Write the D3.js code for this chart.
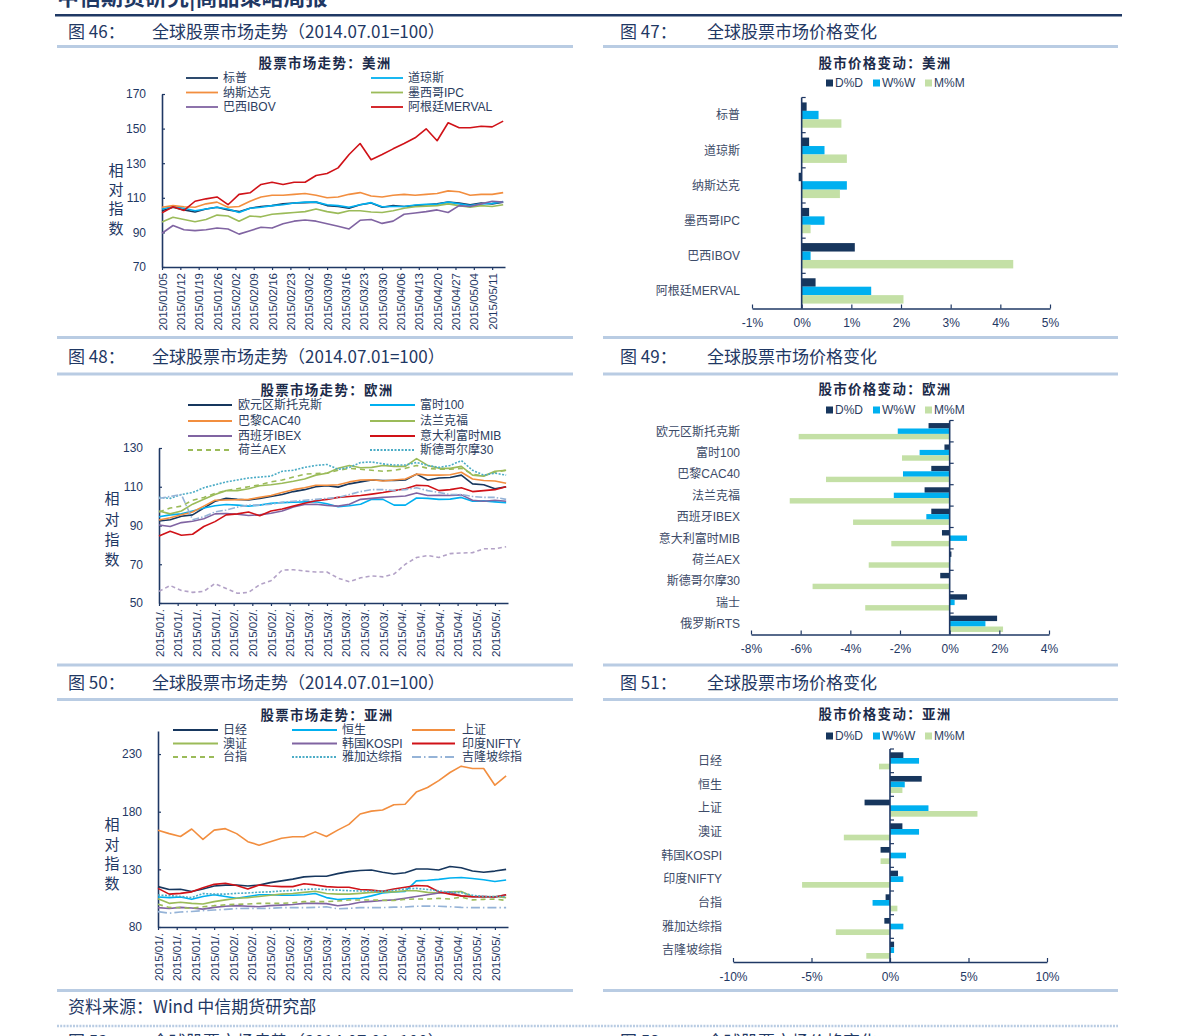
<!DOCTYPE html>
<html><head><meta charset="utf-8">
<script src="https://cdn.jsdelivr.net/npm/d3@7"></script>
<style>
body{margin:0;background:#fff;}
svg text{font-family:'Liberation Sans','Noto Sans CJK SC',sans-serif;}
</style>
</head><body>
<svg id="c" width="1191" height="1036"></svg>
<script>
// ---------- DATA ----------
const tradingDay = [0,3,6,9,12,15,18,21,24,27,30,33,36,39,42,45,48,51,54,57,60,63,66,69,72,75,78,81,84,87,90,93];
const weekTicks = [0,5,10,15,20,25,30,35,40,45,50,55,60,65,70,75,80,85,90];
const weekLabels = ['2015/01/05','2015/01/12','2015/01/19','2015/01/26','2015/02/02','2015/02/09','2015/02/16','2015/02/23','2015/03/02','2015/03/09','2015/03/16','2015/03/23','2015/03/30','2015/04/06','2015/04/13','2015/04/20','2015/04/27','2015/05/04','2015/05/11'];

const usSP     = [102.5,104.5,103,101.8,103.5,104.5,103,102,104,105,105.5,106.5,107,107.2,107.5,105.5,105,104,106,107,104.5,105.5,105,105.5,106,106.5,107.5,107,106,107,106.5,107.5];
const usDow    = [103.5,105,104,102.5,103.5,104.5,103.5,101.5,104,104.5,105.5,106,107,107.5,107.5,106,105.5,104.5,106,107.2,104.8,105,105,105.8,106.2,106.3,107.5,106.5,105.5,106.5,106.8,107.8];
const usNasdaq = [104.5,105.5,104.8,104.5,106.5,107.5,104.5,105,108,110.5,111.5,111.5,112,112.5,111.5,110,110.5,112,113,111,110.5,111.5,112,111.5,112,112.5,114,113.5,111.5,112,112,113];
const usIPC    = [96,98.8,97.5,96.2,97.5,100,99.5,96.5,99.5,99,100.5,101,101.5,102,103.5,102,101,102.5,102.5,101.8,101.5,102.5,104,104.8,105.2,105.5,106.5,105.5,104.5,105.5,105,106];
const usIBOV   = [89.5,94,91.5,91,91.5,92.5,92,89,91,93,92.5,95,96.5,97.2,96.5,95,93.5,92,97,97.5,95.2,96.5,100.5,101.2,102,103,101.5,105.5,105,106.5,108,107.5];
const usMerval = [101.3,104.8,102.7,108,109.4,110.5,106,112,112.9,117.7,119,117.7,119,119,122.9,124,127.3,135,141.4,132,135,138.3,141.4,144.7,149.9,143,153.4,150.5,150.5,151.4,151,154.3];

const euStoxx = [92.3,93,94.8,95.5,99,102.5,104,103.5,103.2,104,105,106,107.5,108.5,110,110.5,109.8,111.5,112.5,113.5,113.2,113.2,113.5,116.5,113.5,114.5,114.8,116,111.5,111,109,110];
const euFTSE  = [94.5,95.5,96,97.5,99,100.2,100.8,100.5,100,100.5,101.5,101.8,102,102.2,102.3,101.2,99.7,100.2,101,103.5,103.5,100.5,100.5,104.2,104,103.5,103.6,104.5,102.5,102.7,102.2,101.8];
const euCAC   = [92.8,94,95.5,97,100,103,103.2,103.3,103.5,104.5,105.5,107,108.5,109.5,110.8,110.8,111,112.5,113.5,113.6,113,113.5,114,116.5,116,116,116.2,117.5,114,113.2,113,111.8];
const euDAX   = [97.5,96,97.5,101,103.5,106,108,108,109,110.5,111,111.8,112.8,114,116,117,119.5,121,119.8,120,121,120.5,120.5,124.5,121,119.5,119.5,120.5,116,115.5,118,118.5];
const euIBEX  = [90.3,89.5,91.5,92.2,93.5,96,96.2,95.8,95.2,95.5,96.3,97.5,99.5,100.8,101,100.4,100,101,103.5,104,104.5,104.8,105.2,106.8,105.5,105.6,105.5,105.8,103,102.5,103,102.5];
const euMIB   = [84.6,87,85,85.5,89.5,92,95.5,96,97,95,97.5,98.5,100,101.5,102.8,103.5,104.5,105,105.5,106.2,107,108,109,110.8,110.5,108,108.5,109.5,107.5,108,108.5,110];
const euAEX   = [97,99,100,103,104.5,106.5,108,109,110,111,112.5,113.5,115,116.5,116.8,117,118.5,119.5,119,118.5,118,118.5,119.5,121,119.5,119,119,119.5,116.5,115.5,117.5,118.5];
const euOMX   = [104.5,104,106,107,109.5,111,112.5,113.5,114.5,115,115.5,118,118.5,120,121,121.5,119,120,122.5,122.8,121.8,121.2,121.2,122.5,121,120,121,123.5,118.5,116,117,116];
const euSMI   = [104,105,106,93,94.5,97,98,99.5,100.5,100.5,101,102,102.5,103,103.5,104,104.5,106,107.5,108.5,108.5,108,108.5,109.5,108,107,106,106,105,104.5,104.5,103.5];
const euRTS   = [56,59,56.5,55.5,56,60,57.5,55,55.5,59.5,61.5,67,67.2,66.5,66,66,62.8,61,63,64,63.5,65,70,73.5,74.5,73.5,75.5,75.8,76,78,78,79];

const asNikkei = [115,112.5,112.8,110.8,113,115.5,116.3,116.4,115.5,116.3,118.5,120,121.5,123.5,124,124,126.3,128,129,129.4,127.5,126,127,130.3,130.3,129.5,132.5,131.4,128.6,127.5,128.5,130];
const asHSI    = [106,105.5,106,104,106.5,108,106.5,105,106.5,108,108,107.5,107.5,108,109,105.5,103.8,104.5,105,107,109.5,110.5,110.8,120,120.5,121.3,122.5,123,122,121,119.5,120.8];
const asSSE    = [164,161,158.5,165,156,164,165.3,161,154,151,154,157,158.3,158.3,162.5,158.5,164,169,178,180.5,181.5,186,186.5,197,201,207,214,219.5,217.5,217.5,203,211];
const asASX    = [104.5,100.5,101.5,100.5,100,102,103.5,105,105.5,106.5,107.5,108.5,109,110,111,109,108.5,108.5,109.2,110,110.5,110.5,111.5,111.5,110,109.5,110.5,110.8,106.5,106,106.5,105.5];
const asKOSPI  = [96.8,96,97,96.5,95.5,97,98,98.5,98,97.6,98.5,99,99.5,100.5,100.5,100.3,98.5,99.5,101.5,102.2,103,103.5,105,106.5,108,109.5,110,107,106.3,106.5,106,108];
const asNifty  = [113.5,108.5,109.2,110.5,114,117,118,116,113,116.4,115.5,115,115,117.5,116.5,115,114.5,114.5,112.5,112,111,113,114.5,116,115.5,110.6,108.5,107,106.3,106.5,106,108];
const asTWSE   = [99.7,97,96.8,96.2,97.5,98.5,99.2,99.7,100,100.5,100.5,100.5,101,102,102,102,102.5,103.4,103.4,103.4,103.2,103,104,104.3,104.3,104.8,104.3,106,103.5,104,104.2,103];
const asJKSE   = [107.7,107.2,106.5,105.5,109,108.5,108.5,109.2,109.5,110.2,110.5,111.2,111.8,112.5,113,112.4,112,111.5,111.2,111.2,111,111.8,113,113.5,112.5,111.3,110.2,109.8,107.5,106.5,106.5,106.3];
const asKLCI   = [93.3,92,93,93.5,94.2,94.7,95.3,96,96.2,96,96.2,96.8,96.8,96.8,97,97.5,95.8,96.2,96.8,96.8,96.8,97.2,97.4,98,98.2,98,97.6,97,96.8,96.8,96.8,96.8];

const amCats = ['标普','道琼斯','纳斯达克','墨西哥IPC','巴西IBOV','阿根廷MERVAL'];
const amDD = [0.10,0.15,-0.06,0.15,1.07,0.28];
const amWW = [0.34,0.46,0.91,0.46,0.18,1.40];
const amMM = [0.80,0.91,0.77,0.18,4.26,2.05];

const euCats = ['欧元区斯托克斯','富时100','巴黎CAC40','法兰克福','西班牙IBEX','意大利富时MIB','荷兰AEX','斯德哥尔摩30','瑞士','俄罗斯RTS'];
const euDD = [-0.85,-0.21,-0.74,-1.01,-0.74,-0.31,0.07,-0.38,0.70,1.91];
const euWW = [-2.09,-1.21,-1.88,-2.25,-0.94,0.70,0.02,-0.02,0.20,1.44];
const euMM = [-6.08,-1.92,-4.98,-6.44,-3.89,-2.35,-3.26,-5.52,-3.40,2.15];

const asCats = ['日经','恒生','上证','澳证','韩国KOSPI','印度NIFTY','台指','雅加达综指','吉隆坡综指'];
const asDD = [0.85,2.02,-1.62,0.79,-0.60,0.51,-0.28,-0.36,0.26];
const asWW = [1.85,0.94,2.45,1.85,1.02,0.85,-1.11,0.85,0.26];
const asMM = [-0.70,0.79,5.57,-2.94,-0.60,-5.60,0.47,-3.45,-1.51];

const barSeriesNames = ['D%D','W%W','M%M'];

// ---------- STYLE ----------
const NAVY = '#1f3864';
const TXT = '#2c3d60';
const C = {navy:'#17375e', blue:'#00b0f0', orange:'#f28e3f', green:'#9bbb59', purple:'#8064a2', red:'#d01218',
           teal:'#4bacc6', lav:'#b3a2c7', steel:'#95b3d7', dD:'#17365d', dW:'#00b0f0', dM:'#c4e0a6'};
const SEP = '#b9cce3';

const svg = d3.select('#c');

// ---------- PAGE FRAME ----------
svg.append('text').attr('x',57).attr('y',5).attr('font-size',22).attr('font-weight','bold').attr('fill',NAVY)
  .style('font-family',"'Noto Sans CJK SC',sans-serif").text('中信期货研究|商品策略周报');
svg.append('rect').attr('x',55).attr('y',14).attr('width',1067).attr('height',2.5).attr('fill',NAVY);

[46.5,337.5,374,665,699.5,990.5].forEach(yy=>{
  svg.append('rect').attr('x',57).attr('y',yy-1.5).attr('width',516).attr('height',3).attr('fill',SEP);
  svg.append('rect').attr('x',603).attr('y',yy-1.5).attr('width',515).attr('height',3).attr('fill',SEP);
});

function header(xNum, xTitle, y, num, title){
  svg.append('text').attr('x',xNum).attr('y',y).attr('font-size',17).attr('fill',NAVY)
    .style('font-family',"'Noto Sans CJK SC',sans-serif").text(num);
  svg.append('text').attr('x',xTitle).attr('y',y).attr('font-size',17).attr('fill',NAVY)
    .style('font-family',"'Noto Sans CJK SC',sans-serif").text(title);
}
header(68,152,38,'图 46：','全球股票市场走势（2014.07.01=100）');
header(620,707,38,'图 47：','全球股票市场价格变化');
header(68,152,363,'图 48：','全球股票市场走势（2014.07.01=100）');
header(620,707,363,'图 49：','全球股票市场价格变化');
header(68,152,689,'图 50：','全球股票市场走势（2014.07.01=100）');
header(620,707,689,'图 51：','全球股票市场价格变化');
header(68,152,1048,'图 52：','全球股票市场走势（2014.07.01=100）');
header(620,707,1048,'图 53：','全球股票市场价格变化');

svg.append('text').attr('x',68).attr('y',1013).attr('font-size',17).attr('fill',NAVY)
  .style('font-family',"'Noto Sans CJK SC',sans-serif").text('资料来源：Wind 中信期货研究部');
svg.append('line').attr('x1',57).attr('x2',1118).attr('y1',1026).attr('y2',1026)
  .attr('stroke',SEP).attr('stroke-width',2.5).attr('stroke-dasharray','2,1.2');

// ---------- LINE CHART ----------
function lineChart(o){
  const g = svg.append('g');
  const x = d3.scaleLinear().domain([0,93.5]).range([o.x0,o.x1]);
  const y = d3.scaleLinear().domain(o.yDom).range([o.yB,o.yT]);

  g.append('text').attr('x',o.titleX).attr('y',o.titleY).attr('text-anchor','middle')
    .attr('font-size',13.5).attr('font-weight','bold').attr('letter-spacing',1.3).attr('fill','#1c2b4a')
    .style('font-family',"'Noto Sans CJK SC',sans-serif").text(o.title);

  const ya = g.append('g').attr('transform',`translate(${o.x0},0)`)
    .call(d3.axisLeft(y).tickValues(o.yTicks).tickSizeInner(-3).tickSizeOuter(0).tickPadding(16));
  const xa = g.append('g').attr('transform',`translate(0,${o.yB})`)
    .call(d3.axisBottom(x).tickValues(weekTicks).tickFormat((d,i)=>o.xLabels[i]).tickSizeInner(3).tickSizeOuter(0));
  xa.selectAll('text').attr('transform','rotate(-90)').attr('x',-6).attr('y',0).attr('dy','0.36em')
    .style('text-anchor','end').attr('font-size',11.5).attr('fill',NAVY);
  ya.selectAll('text').attr('font-size',12).attr('fill',NAVY);
  [ya,xa].forEach(a=>{
    a.select('.domain').attr('stroke',NAVY).attr('stroke-width',1.6);
    a.selectAll('.tick line').attr('stroke',NAVY).attr('stroke-width',1.2);
  });

  ['相','对','指','数'].forEach((ch,i)=>{
    g.append('text').attr('x',o.yTitleX).attr('y',o.yTitleYs[i]+5.5).attr('text-anchor','middle')
      .attr('font-size',15).attr('fill',NAVY).style('font-family',"'Noto Sans CJK SC',sans-serif").text(ch);
  });

  const line = d3.line().x((d,i)=>x(tradingDay[i])).y(d=>y(d));
  o.series.forEach(s=>{
    g.append('path').datum(s.values).attr('d',line).attr('fill','none')
      .attr('stroke',s.color).attr('stroke-width',s.w||1.6).attr('stroke-dasharray',s.dash||null)
      .attr('stroke-linejoin','round');
  });

  const ncol = o.legCols.length;
  o.series.filter(s=>s.name).forEach((s,k)=>{
    const c = o.legCols[k%ncol], ry = o.legRows[Math.floor(k/ncol)];
    g.append('line').attr('x1',c[0]).attr('x2',c[1]).attr('y1',ry).attr('y2',ry)
      .attr('stroke',s.color).attr('stroke-width',1.8).attr('stroke-dasharray',s.dash||null);
    g.append('text').attr('x',c[2]).attr('y',ry+4.3).attr('font-size',12).attr('fill',TXT).text(s.name);
  });
}

// ---------- BAR CHART ----------
function barChart(o){
  const g = svg.append('g');
  const x = d3.scaleLinear().domain(o.xDom).range([o.xL,o.xR]);
  const y = d3.scaleBand().domain(o.cats).range([o.yT,o.yB]);
  const bw = y.bandwidth();
  const sub = d3.scaleBand().domain(barSeriesNames).range([bw*(1-o.fill)/2, bw*(1+o.fill)/2]);
  const sets = [{k:'D%D',v:o.dd,c:C.dD},{k:'W%W',v:o.ww,c:C.dW},{k:'M%M',v:o.mm,c:C.dM}];

  g.append('text').attr('x',o.titleX).attr('y',o.titleY).attr('text-anchor','middle')
    .attr('font-size',13.5).attr('font-weight','bold').attr('letter-spacing',1.3).attr('fill','#1c2b4a')
    .style('font-family',"'Noto Sans CJK SC',sans-serif").text(o.title);

  sets.forEach(s=>{
    g.selectAll(null).data(o.cats).enter().append('rect')
      .attr('x',(c,i)=>x(Math.min(0,s.v[i])))
      .attr('width',(c,i)=>Math.abs(x(s.v[i])-x(0)))
      .attr('y',c=>y(c)+sub(s.k))
      .attr('height',sub.bandwidth())
      .attr('fill',s.c);
  });

  const xa = g.append('g').attr('transform',`translate(0,${o.yB})`)
    .call(d3.axisBottom(x).tickValues(o.xTicks).tickFormat(d=>d+'%').tickSizeInner(-4).tickSizeOuter(0).tickPadding(10));
  xa.select('.domain').attr('stroke',NAVY).attr('stroke-width',1.6);
  xa.selectAll('.tick line').attr('stroke',NAVY).attr('stroke-width',1.2);
  xa.selectAll('text').attr('font-size',12).attr('fill',NAVY);

  const x0 = x(0);
  g.append('line').attr('x1',x0).attr('x2',x0).attr('y1',o.yT).attr('y2',o.yB).attr('stroke',NAVY).attr('stroke-width',1.6);
  o.cats.forEach(c=>{
    g.append('line').attr('x1',x0).attr('x2',x0+4).attr('y1',y(c)).attr('y2',y(c)).attr('stroke',NAVY).attr('stroke-width',1.2);
    g.append('text').attr('x',o.labelX).attr('y',y(c)+bw/2+4.3).attr('text-anchor','end')
      .attr('font-size',12).attr('fill','#3d4b68').text(c);
  });

  sets.forEach((s,i)=>{
    g.append('rect').attr('x',o.legX[i]).attr('y',o.legY-3.5).attr('width',7).attr('height',7).attr('fill',s.c);
    g.append('text').attr('x',o.legX[i]+9).attr('y',o.legY+4.3).attr('font-size',12).attr('fill',TXT).text(s.k);
  });
}

// ---------- PANELS ----------
const truncLabels = weekLabels.map(s=>s.slice(0,8)+'.');

lineChart({x0:162,x1:505,yB:267,yT:94,yDom:[70,170],yTicks:[70,90,110,130,150,170],
  xLabels:weekLabels,title:'股票市场走势：美洲',titleX:325,titleY:68,
  yTitleX:116,yTitleYs:[170,189,208,228],
  legCols:[[186,218,223],[371,403,408]],legRows:[78,92.5,107],
  series:[
    {name:'标普',values:usSP,color:C.navy},
    {name:'道琼斯',values:usDow,color:C.blue},
    {name:'纳斯达克',values:usNasdaq,color:C.orange},
    {name:'墨西哥IPC',values:usIPC,color:C.green},
    {name:'巴西IBOV',values:usIBOV,color:C.purple},
    {name:'阿根廷MERVAL',values:usMerval,color:C.red}
  ]});

lineChart({x0:159,x1:508,yB:603,yT:448,yDom:[50,130],yTicks:[50,70,90,110,130],
  xLabels:truncLabels,title:'股票市场走势：欧洲',titleX:327,titleY:395,
  yTitleX:112,yTitleYs:[498,519,539,559],
  legCols:[[188,232,238],[370,415,420]],legRows:[405,421,436,450],
  series:[
    {name:'欧元区斯托克斯',values:euStoxx,color:C.navy},
    {name:'富时100',values:euFTSE,color:C.blue},
    {name:'巴黎CAC40',values:euCAC,color:C.orange},
    {name:'法兰克福',values:euDAX,color:C.green},
    {name:'西班牙IBEX',values:euIBEX,color:C.purple},
    {name:'意大利富时MIB',values:euMIB,color:C.red},
    {name:'荷兰AEX',values:euAEX,color:C.green,dash:'5,4'},
    {name:'斯德哥尔摩30',values:euOMX,color:C.teal,dash:'2,1.5'},
    {name:null,values:euSMI,color:C.steel,dash:'7,2,1.5,2'},
    {name:null,values:euRTS,color:C.lav,dash:'4,3'}
  ]});

lineChart({x0:158,x1:508,yB:927,yT:731,yDom:[80,250],yTicks:[80,130,180,230],
  xLabels:truncLabels,title:'股票市场走势：亚洲',titleX:327,titleY:720,
  yTitleX:112,yTitleYs:[824,844,863,883],
  legCols:[[173,218,223],[292,337,342],[412,455,462]],legRows:[730,743.5,757],
  series:[
    {name:'日经',values:asNikkei,color:C.navy},
    {name:'恒生',values:asHSI,color:C.blue},
    {name:'上证',values:asSSE,color:C.orange},
    {name:'澳证',values:asASX,color:C.green},
    {name:'韩国KOSPI',values:asKOSPI,color:C.purple},
    {name:'印度NIFTY',values:asNifty,color:C.red},
    {name:'台指',values:asTWSE,color:C.green,dash:'5,4'},
    {name:'雅加达综指',values:asJKSE,color:C.teal,dash:'2,1.5'},
    {name:'吉隆坡综指',values:asKLCI,color:C.steel,dash:'9,3,1.5,3'}
  ]});

barChart({xL:752,xR:1050,xDom:[-1,5],xTicks:[-1,0,1,2,3,4,5],yT:97.5,yB:308.5,fill:0.72,
  cats:amCats,dd:amDD,ww:amWW,mm:amMM,labelX:740,title:'股市价格变动：美洲',titleX:885,titleY:68,
  legX:[826,873,925],legY:83});
barChart({xL:751,xR:1049,xDom:[-8,4],xTicks:[-8,-6,-4,-2,0,2,4],yT:420.5,yB:634.5,fill:0.76,
  cats:euCats,dd:euDD,ww:euWW,mm:euMM,labelX:740,title:'股市价格变动：欧洲',titleX:885,titleY:394,
  legX:[826,873,925],legY:410});
barChart({xL:733,xR:1047,xDom:[-10,10],xTicks:[-10,-5,0,5,10],yT:749,yB:962,fill:0.72,
  cats:asCats,dd:asDD,ww:asWW,mm:asMM,labelX:722,title:'股市价格变动：亚洲',titleX:885,titleY:719,
  legX:[826,873,925],legY:736});
</script>
</body></html>
